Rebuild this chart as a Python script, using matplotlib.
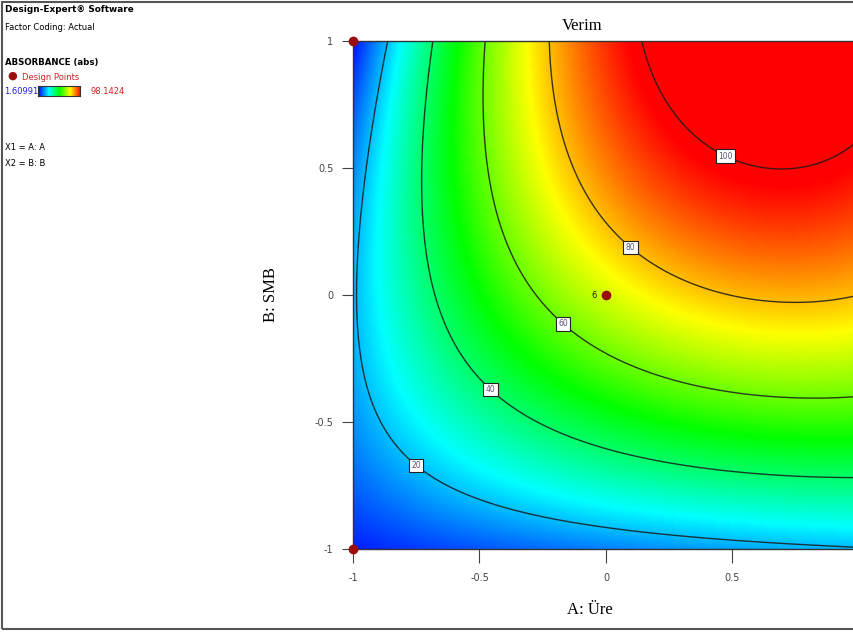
import numpy as np
import matplotlib
matplotlib.use("Agg")
import matplotlib.pyplot as plt
from matplotlib.colors import LinearSegmentedColormap
from matplotlib.patches import Rectangle


W_PX = 854
H_PX = 634

# response model for Verim, coded factors A (Üre) and B (SMB)
COEF_0 = 70.0
COEF_A = 30.5
COEF_B = 39.75
COEF_AB = 22.0
COEF_AA = -20.5
COEF_BB = -16.25
COEF_AAB = -18.5
COEF_ABB = -1.0

Z_MIN = 1.60991
Z_MAX = 98.1424

CONTOUR_LEVELS = [20, 40, 60, 80, 100]
LABEL_A = [-0.727, -0.455, -0.174, 0.091, 0.478]
LABEL_B = [-0.642, -0.370, -0.118, 0.181, 0.559]

DESIGN_A = [-1, -1, 0, 1, 1]
DESIGN_B = [1, -1, 0, 1, -1]
CENTER_REPS = "6"

X_TICKS = [-1, -0.5, 0, 0.5]
X_TICK_LABELS = ["-1", "-0.5", "0", "0.5"]
Y_TICKS = [-1, -0.5, 0, 0.5, 1]
Y_TICK_LABELS = ["-1", "-0.5", "0", "0.5", "1"]

COLORS = ["#0000ff", "#00ffff", "#00ff00", "#ffff00", "#ff0000"]
POINT_COLOR = "#9b0d0d"


def px(x, y):
    return x / W_PX, 1 - y / H_PX


def response(a, b):
    return (COEF_0 + COEF_A * a + COEF_B * b + COEF_AB * a * b
            + COEF_AA * a ** 2 + COEF_BB * b ** 2
            + COEF_AAB * a ** 2 * b + COEF_ABB * a * b ** 2)


def main():
    cmap = LinearSegmentedColormap.from_list("de", COLORS)

    fig = plt.figure(figsize=(W_PX / 100, H_PX / 100), dpi=100)

    # plot area: A=-1 at x=353, A=1 at x=859 (cut by image edge), B from 549 to 41
    left, top = px(353, 41)
    right, bottom = px(859, 549)
    ax = fig.add_axes([left, bottom, right - left, top - bottom])

    a = np.linspace(-1, 1, 401)
    b = np.linspace(-1, 1, 401)
    A, B = np.meshgrid(a, b)
    Z = response(A, B)

    ax.imshow(Z, origin="lower", extent=[-1, 1, -1, 1], aspect="auto",
              cmap=cmap, vmin=Z_MIN, vmax=Z_MAX, interpolation="bilinear")
    cs = ax.contour(A, B, Z, levels=CONTOUR_LEVELS, colors="#1a1a1a",
                    linewidths=1.0, alpha=0.85)
    labels = ax.clabel(cs, fmt="%d", fontsize=5.5, inline=False,
                       manual=list(zip(LABEL_A, LABEL_B)))
    for t in labels:
        t.set_rotation(0)
        t.set_color("#555577")
        t.set_bbox(dict(facecolor="white", edgecolor="#222222",
                        boxstyle="square,pad=0.3", linewidth=0.8))

    ax.scatter(DESIGN_A, DESIGN_B, s=36, color=POINT_COLOR, zorder=5,
               clip_on=False)
    ax.text(-0.035, 0.0, CENTER_REPS, fontsize=6, color="#222222",
            ha="right", va="center")

    ax.set_xlim(-1, 1)
    ax.set_ylim(-1, 1)
    ax.set_xticks(X_TICKS)
    ax.set_xticklabels(X_TICK_LABELS)
    ax.set_yticks(Y_TICKS)
    ax.set_yticklabels(Y_TICK_LABELS)
    ax.tick_params(direction="out", width=0.8, colors="#444444", labelsize=7)
    ax.tick_params(axis="x", length=10, pad=7)
    ax.tick_params(axis="y", length=8, pad=6)
    for s in ax.spines.values():
        s.set_color("#333333")
        s.set_linewidth(1.0)

    serif = ["Liberation Serif", "DejaVu Serif"]
    ax.set_title("Verim", fontsize=12, family=serif, pad=8,
                 x=(582 - 353) / 506)
    ax.set_xlabel("A: Üre", fontsize=12, family=serif)
    ax.set_ylabel("B: SMB", fontsize=12, family=serif)
    ax.xaxis.set_label_coords((590 - 353) / 506, -0.105)
    ax.yaxis.set_label_coords(-0.147, 0.5)

    # Design-Expert info block
    fs = 6
    fig.text(*px(5, 10), "Design-Expert® Software", fontsize=6.4,
             fontweight="bold", va="center")
    fig.text(*px(5, 28), "Factor Coding: Actual", fontsize=fs, va="center")
    fig.text(*px(5, 62), "ABSORBANCE (abs)", fontsize=6.2, fontweight="bold",
             va="center")
    fig.text(*px(12, 76), "●", fontsize=8, color=POINT_COLOR, va="center",
             ha="center")
    fig.text(*px(22, 77), "Design Points", fontsize=fs, color="#d02020",
             va="center")
    fig.text(*px(4, 91), "1.60991", fontsize=fs, color="#2020e0", va="center")
    fig.text(*px(91, 91), "98.1424", fontsize=fs, color="#d02020", va="center")

    sx0, sy0 = px(38, 96)
    sx1, sy1 = px(80, 86)
    sw = fig.add_axes([sx0, sy0, sx1 - sx0, sy1 - sy0])
    sw.imshow(np.linspace(0, 1, 100)[None, :], aspect="auto", cmap=cmap)
    sw.set_xticks([])
    sw.set_yticks([])
    for s in sw.spines.values():
        s.set_color("#333333")
        s.set_linewidth(0.8)

    fig.text(*px(5, 148), "X1 = A: A", fontsize=fs, va="center")
    fig.text(*px(5, 163), "X2 = B: B", fontsize=fs, va="center")

    # outer frame of the screenshot
    bx, by = px(2, 629)
    bx1, by1 = px(880, 2)
    fig.patches.append(Rectangle((bx, by), bx1 - bx, by1 - by, fill=False,
                                 edgecolor="#555555", linewidth=1.5,
                                 transform=fig.transFigure, figure=fig))

    fig.savefig("out.png", dpi=100)
    plt.close(fig)


if __name__ == "__main__":
    main()
